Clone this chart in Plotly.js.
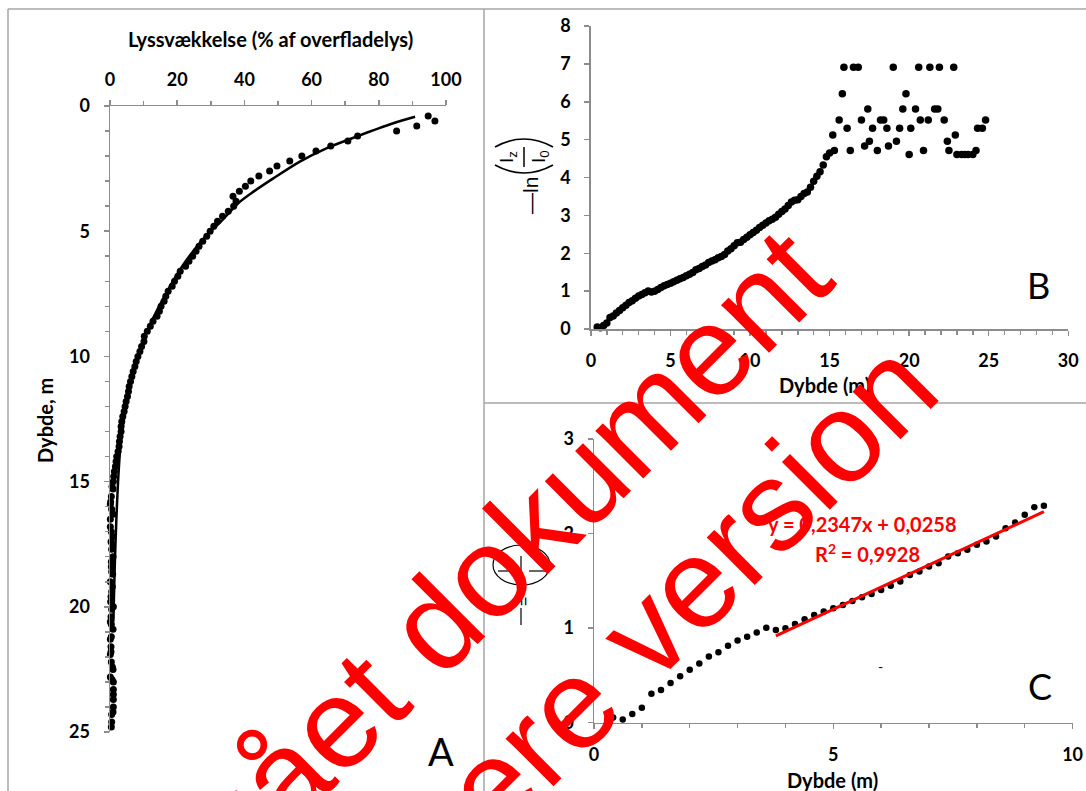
<!DOCTYPE html>
<html>
<head>
<meta charset="utf-8">
<script src="https://cdn.plot.ly/plotly-3.0.1.min.js"></script>
<style>html,body{margin:0;padding:0;background:#fff;}#chart{width:1086px;height:791px;}</style>
</head>
<body>
<div id="chart"></div>
<script>
// ---------------- DATA ----------------
// Depth of each measurement (m)
const depth = [0.4,0.6,0.8,1.0,1.2,1.4,1.6,1.8,2.0,2.2,2.4,2.6,2.8,3.0,3.2,3.4,3.6,3.8,4.0,4.2,
  4.4,4.6,4.8,5.0,5.2,5.4,5.6,5.8,6.0,6.2,6.4,6.6,6.8,7.0,7.2,7.4,7.6,7.8,8.0,8.2,
  8.4,8.6,8.8,9.0,9.2,9.4,9.6,9.8,10.0,10.2,10.4,10.6,10.8,11.0,11.2,11.4,11.6,11.8,12.0,12.2,
  12.4,12.6,12.8,13.0,13.2,13.4,13.6,13.8,14.0,14.2,14.4,14.6,14.8,15.0,
  15.2,15.3,15.6,15.8,15.9,16.1,16.3,16.5,16.8,17.0,17.2,17.4,17.5,17.7,18.0,18.2,18.4,18.6,18.7,19.0,
  19.2,19.4,19.6,19.8,20.0,20.1,20.4,20.6,20.7,20.9,21.2,21.3,21.6,21.8,21.9,22.2,22.4,22.5,22.8,22.9,
  23.0,23.3,23.5,23.7,24.0,24.2,24.3,24.6,24.8];
// Panel B / C : -ln(Iz/I0)
const lnRatio = [0.054,0.034,0.091,0.159,0.305,0.345,0.42,0.49,0.56,0.625,0.70,0.745,0.815,0.87,0.91,0.955,1.005,0.98,1.00,1.044,
  1.094,1.14,1.175,1.21,1.245,1.288,1.327,1.362,1.404,1.447,1.492,1.563,1.598,1.651,1.687,1.757,1.793,1.828,1.881,1.916,
  1.969,2.057,2.116,2.198,2.279,2.293,2.36,2.42,2.49,2.55,2.61,2.68,2.74,2.80,2.86,2.90,2.95,3.03,3.10,3.17,
  3.26,3.35,3.40,3.41,3.50,3.58,3.62,3.74,3.90,4.03,4.15,4.33,4.55,4.65,
  5.12,4.71,5.52,6.21,6.91,5.30,4.71,6.91,6.91,5.52,4.83,5.81,4.96,5.30,4.71,5.52,5.52,5.30,4.83,6.91,
  4.96,5.30,5.81,6.21,4.61,5.30,5.81,6.91,5.52,4.71,5.52,6.91,5.81,5.81,6.91,5.52,4.96,4.71,6.91,5.12,
  4.61,4.61,4.61,4.61,4.61,4.71,5.30,5.30,5.52];
// Panel A : light (% of surface light)
const lightPct = [94.7,96.7,91.3,85.3,73.7,70.8,65.7,61.3,57.1,53.5,49.7,47.5,44.3,41.9,40.3,38.5,36.6,37.5,36.8,35.2,
  33.5,32.0,30.9,29.8,28.8,27.6,26.5,25.6,24.6,23.5,22.5,20.9,20.2,19.2,18.5,17.3,16.6,16.1,15.2,14.7,
  14.0,12.8,12.0,11.1,10.2,10.1,9.4,8.9,8.3,7.8,7.4,6.9,6.5,6.1,5.7,5.5,5.2,4.8,4.5,4.2,
  3.8,3.5,3.3,3.3,3.0,2.8,2.7,2.4,2.0,1.8,1.6,1.3,1.1,1.0,
  0.6,0.9,0.4,0.2,0.1,0.5,0.9,0.1,0.1,0.4,0.8,0.3,0.7,0.5,0.9,0.4,0.4,0.5,0.8,0.1,
  0.7,0.5,0.3,0.2,1.0,0.5,0.3,0.1,0.4,0.9,0.4,0.1,0.3,0.3,0.1,0.4,0.7,0.9,0.1,0.6,
  1.0,1.0,1.0,1.0,1.0,0.9,0.5,0.5,0.4];
// Panel A trend line
const trendADepth = [0.43,0.69,1.22,1.69,2.22,2.89,3.42,3.82,4.62,5.2,6.3,7.6,9.15,10.6,12.1,13.6,15.0,16.5,18.0,19.5,20.6];
const trendALight = [90.8,84.3,73.4,64.4,56.5,48.6,42.7,38.7,33.0,28.5,22.0,16.2,10.5,7.0,4.6,3.1,2.4,1.9,1.5,1.2,1.0];
// Panel C : subset to 9.4 m and linear trend
const cMaxDepth = 9.4;
const trendCX = [3.8, 9.4];
const trendCY = [0.918, 2.232];
const eqText = 'y = 0,2347x + 0,0258';
const r2Text = 'R<sup>2</sup> = 0,9928';
// Tick labels
const ticksA_x = [0,20,40,60,80,100];
const ticksA_y = [0,5,10,15,20,25];
const ticksB_x = [0,5,10,15,20,25,30];
const ticksB_y = [0,1,2,3,4,5,6,7,8];
const ticksC_x = [0,5,10];
const ticksC_y = [0,1,2,3];

const cDepth = depth.filter(d => d <= cMaxDepth);
const cLn = lnRatio.slice(0, cDepth.length);

// ---------------- LAYOUT HELPERS ----------------
const W = 1086, H = 791;
const fx = x => x / W;
const fy = y => 1 - y / H;
const TF = 'Lato, "Open Sans", "Liberation Sans", sans-serif';
const gray = '#8c8c8c';
const tickFont = {family: TF, size: 18, color: '#000', weight: 'bold'};

function axis(extra) {
  return Object.assign({
    showline: true, linecolor: gray, linewidth: 1.5,
    ticks: 'outside', ticklen: 5, tickwidth: 1.5, tickcolor: gray,
    showgrid: false, zeroline: false, tickfont: tickFont, tickmode: 'array',
    ticklabelstandoff: 10, fixedrange: true
  }, extra);
}
function minor(dt) {
  return {dtick: dt, ticks: 'outside', ticklen: 4, tickwidth: 1.5, tickcolor: gray, showgrid: false};
}

const traces = [
  {x: lightPct, y: depth, xaxis: 'x', yaxis: 'y', type: 'scatter', mode: 'markers',
   marker: {size: 7, color: '#000'}, cliponaxis: false, hoverinfo: 'skip'},
  {x: trendALight, y: trendADepth, xaxis: 'x', yaxis: 'y', type: 'scatter', mode: 'lines',
   line: {color: '#000', width: 2.5, shape: 'spline', smoothing: 0.8}, cliponaxis: false, hoverinfo: 'skip'},
  {x: depth, y: lnRatio, xaxis: 'x2', yaxis: 'y2', type: 'scatter', mode: 'markers',
   marker: {size: 7.5, color: '#000'}, cliponaxis: false, hoverinfo: 'skip'},
  {x: cDepth, y: cLn, xaxis: 'x3', yaxis: 'y3', type: 'scatter', mode: 'markers',
   marker: {size: 6.5, color: '#000'}, cliponaxis: false, hoverinfo: 'skip'},
  {x: trendCX, y: trendCY, xaxis: 'x3', yaxis: 'y3', type: 'scatter', mode: 'lines',
   line: {color: '#ff0000', width: 3}, cliponaxis: false, hoverinfo: 'skip'}
];

function ann(text, x, y, opts) {
  return Object.assign({text: text, x: fx(x), y: fy(y), xref: 'paper', yref: 'paper',
    showarrow: false, xanchor: 'center', yanchor: 'middle'}, opts);
}
const boldTitle = {family: TF, size: 20, color: '#000', weight: 'bold'};
const redBold = {family: TF, size: 20, color: '#ff0000', weight: 'bold'};
const wmFont = {family: '"Liberation Sans", Arial, sans-serif', size: 128, color: '#ff0000'};
const annotations = [
  ann('Lyssvækkelse (% af overfladelys)', 270, 39, {font: boldTitle}),
  ann('Dybde, m', 45, 421, {font: boldTitle, textangle: -90}),
  ann('Dybde (m)', 824, 385, {font: boldTitle}),
  ann('Dybde (m)', 832, 780, {font: boldTitle}),
  ann('A', 441, 751, {font: {family: TF, size: 38, color: '#000'}}),
  ann('B', 1038, 285, {font: {family: TF, size: 36, color: '#000'}}),
  ann('C', 1040, 686, {font: {family: TF, size: 36, color: '#000'}}),
  ann(eqText, 862, 524, {font: redBold}),
  ann(r2Text, 867, 553, {font: redBold}),
  ann('-', 880, 666, {font: {family: TF, size: 14, color: '#000'}}),
  // B y-axis title  -ln(Iz/I0)
  ann('—ln', 531, 196, {font: {family: '"Liberation Sans", sans-serif', size: 21, color: '#000'}, textangle: -90}),
  ann('I<sub>z</sub>', 508, 157, {font: {family: '"Liberation Sans", sans-serif', size: 19, color: '#000'}, textangle: -90}),
  ann('I<sub>0</sub>', 540, 157, {font: {family: '"Liberation Sans", sans-serif', size: 19, color: '#000'}, textangle: -90}),
  // C y-axis title (garbled rendering)
  ann('=', 523, 602, {font: {family: '"Liberation Sans", sans-serif', size: 16, color: '#000'}, textangle: -90}),
  // Watermark
  ann('Udgået dokument', 449, 609, {font: wmFont, textangle: -45}),
  ann('Se nyere version', 573, 703, {font: wmFont, textangle: -45})
];

function P(x, y) { return fx(x) + ',' + fy(y); }
const borderLine = {color: '#a6a6a6', width: 1.5};
const shapes = [
  {type: 'line', xref: 'paper', yref: 'paper', x0: fx(8), y0: fy(9), x1: fx(8), y1: fy(791), line: borderLine, layer: 'below'},
  {type: 'line', xref: 'paper', yref: 'paper', x0: fx(8), y0: fy(9), x1: fx(1086), y1: fy(9), line: borderLine, layer: 'below'},
  {type: 'line', xref: 'paper', yref: 'paper', x0: fx(484), y0: fy(9), x1: fx(484), y1: fy(791), line: borderLine, layer: 'below'},
  {type: 'line', xref: 'paper', yref: 'paper', x0: fx(484), y0: fy(403), x1: fx(1086), y1: fy(403), line: borderLine, layer: 'below'},
  // parentheses of B title
  {type: 'path', xref: 'paper', yref: 'paper', path: 'M' + P(495,165) + ' Q' + P(524,181) + ' ' + P(553,165), line: {color: '#000', width: 1.6}},
  {type: 'path', xref: 'paper', yref: 'paper', path: 'M' + P(495,147) + ' Q' + P(524,131) + ' ' + P(553,147), line: {color: '#000', width: 1.6}},
  {type: 'line', xref: 'paper', yref: 'paper', x0: fx(524), y0: fy(147), x1: fx(524), y1: fy(167), line: {color: '#000', width: 1.5}},
  // C title garbled
  {type: 'circle', xref: 'paper', yref: 'paper', x0: fx(493), y0: fy(545), x1: fx(550), y1: fy(585), line: {color: '#000', width: 1.2}},
  {type: 'line', xref: 'paper', yref: 'paper', x0: fx(498), y0: fy(571), x1: fx(517), y1: fy(571), line: {color: '#000', width: 1.2}},
  {type: 'line', xref: 'paper', yref: 'paper', x0: fx(529), y0: fy(571), x1: fx(546), y1: fy(571), line: {color: '#000', width: 1.2}},
  {type: 'line', xref: 'paper', yref: 'paper', x0: fx(521), y0: fy(556), x1: fx(521), y1: fy(586), line: {color: '#000', width: 1.2}},
  {type: 'line', xref: 'paper', yref: 'paper', x0: fx(521), y0: fy(608), x1: fx(521), y1: fy(625), line: {color: '#000', width: 1.2}}
];

const layout = {
  width: W, height: H, margin: {l: 0, r: 0, t: 0, b: 0},
  paper_bgcolor: '#fff', plot_bgcolor: 'rgba(0,0,0,0)', showlegend: false,
  xaxis: axis({domain: [fx(110), fx(446)], anchor: 'y', side: 'top', range: [0, 100],
    tickvals: ticksA_x, minor: minor(10), ticklabelstandoff: 6}),
  yaxis: axis({domain: [fy(732), fy(106)], anchor: 'x', range: [25, 0],
    tickvals: ticksA_y, minor: minor(1)}),
  xaxis2: axis({domain: [fx(590.9), fx(1068.3)], anchor: 'y2', range: [0, 30],
    tickvals: ticksB_x, minor: minor(1)}),
  yaxis2: axis({domain: [fy(329), fy(26)], anchor: 'x2', range: [0, 8], tickvals: ticksB_y}),
  xaxis3: axis({domain: [fx(594), fx(1072.6)], anchor: 'y3', range: [0, 10],
    tickvals: ticksC_x, minor: minor(1)}),
  yaxis3: axis({domain: [fy(722.7), fy(439)], anchor: 'x3', range: [0, 3], tickvals: ticksC_y}),
  annotations: annotations,
  shapes: shapes
};

Plotly.newPlot('chart', traces, layout, {displayModeBar: false, staticPlot: true});
</script>
</body>
</html>
